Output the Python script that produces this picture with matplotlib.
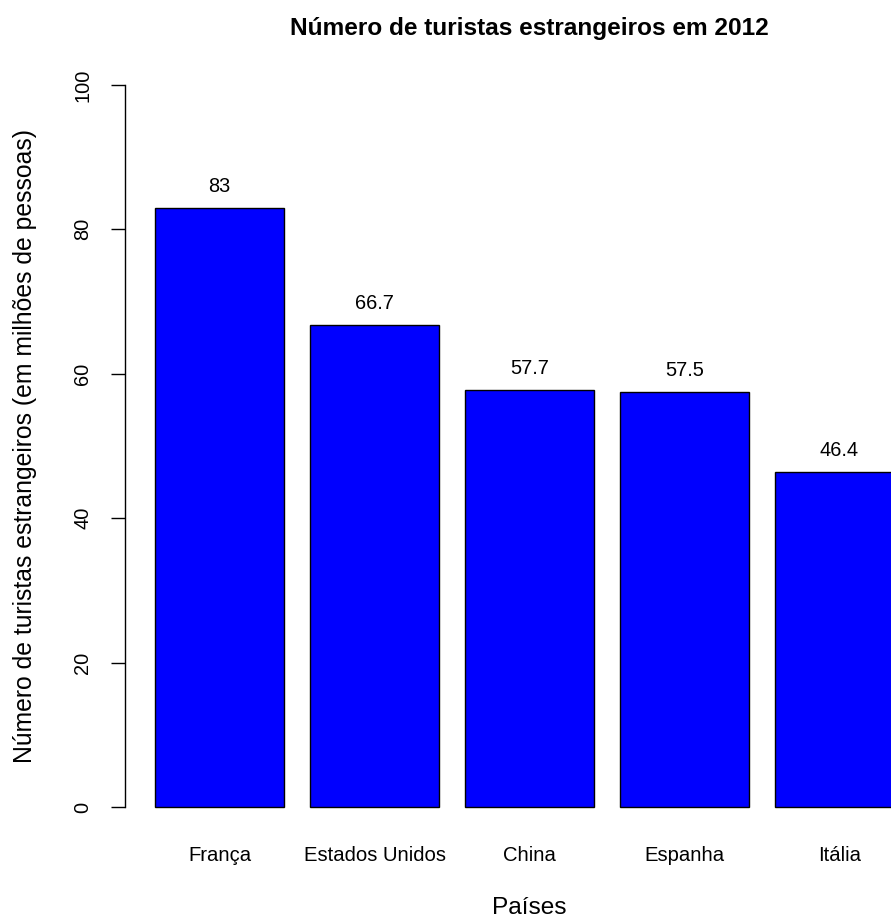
import matplotlib
matplotlib.use("Agg")
import matplotlib.pyplot as plt

plt.rcParams['font.family'] = ['Liberation Sans', 'DejaVu Sans']

paises = ["França", "Estados Unidos", "China", "Espanha", "Itália"]
turistas = [83, 66.7, 57.7, 57.5, 46.4]
yticks = [0, 20, 40, 60, 80, 100]

W, H = 891, 922
fig = plt.figure(figsize=(W / 100, H / 100), dpi=100)

# plot region in pixels (R-style barplot region, extends past right edge)
left, right = 125, 934
bottom, top = 836, 56
ax = fig.add_axes([left / W, 1 - bottom / H, (right - left) / W, (bottom - top) / H])

space, width = 0.2, 1.0
centers = [space + width / 2 + i * (space + width) for i in range(len(paises))]
ax.bar(centers, turistas, width=width, color="#0000FF", edgecolor="black", linewidth=1)

for x, v in zip(centers, turistas):
    ax.text(x, v + 3, f"{v:g}", ha="center", va="center", fontsize=14.4)

xmin, xmax = space, len(paises) * (space + width)
ext = 0.04 * (xmax - xmin)
ax.set_xlim(xmin - ext, xmax + ext)
ax.set_ylim(-4, 104)

for s in ["top", "right", "bottom"]:
    ax.spines[s].set_visible(False)
ax.spines["left"].set_bounds(0, 100)
ax.spines["left"].set_linewidth(1)

ax.set_yticks(yticks)
ax.set_yticklabels([str(t) for t in yticks], rotation=90, va="center")
ax.tick_params(axis="y", length=10, width=1, pad=13.5, labelsize=14.4)

ax.set_xticks(centers)
ax.set_xticklabels(paises)
ax.tick_params(axis="x", length=0, pad=7, labelsize=14.6)

fig.text((left + right) / 2 / W, 1 - 28 / H, "Número de turistas estrangeiros em 2012",
         ha="center", va="center", fontsize=17.6, fontweight="bold")
fig.text((left + right) / 2 / W, 1 - 908 / H, "Países", ha="center", va="center", fontsize=17.6)
fig.text(25 / W, 1 - ((top + bottom) / 2) / H,
         "Número de turistas estrangeiros (em milhões de pessoas)",
         ha="center", va="center", rotation=90, fontsize=17.8)

fig.savefig("out.png", dpi=100)
